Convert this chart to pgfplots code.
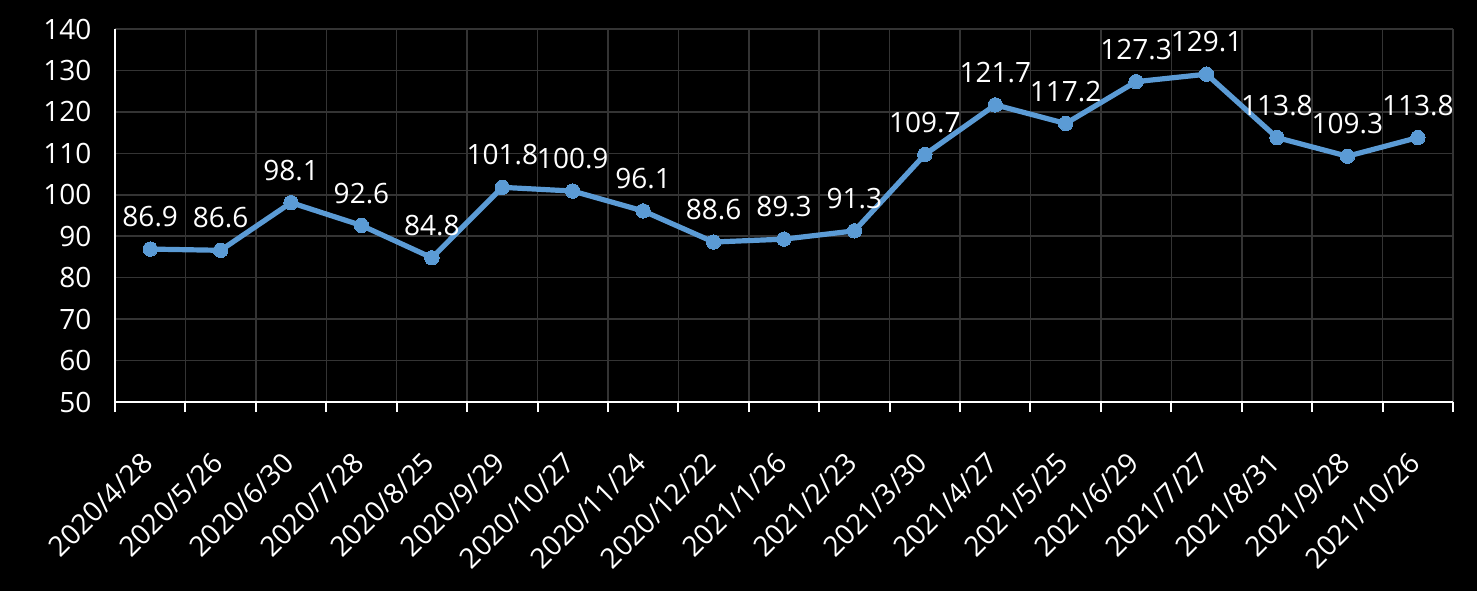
\documentclass[border=0pt]{standalone}
\usepackage{pgfplots}
\pgfplotsset{compat=1.18}
\usepackage{fontspec}
\setmainfont{Open Sans}
\definecolor{linec}{RGB}{91,155,213}
\definecolor{gridc}{RGB}{52,52,52}
\begin{document}
\begin{tikzpicture}
\fill[black] (0,0) rectangle (738.5pt,295.5pt);
\useasboundingbox (0,0) rectangle (738.5pt,295.5pt);
\begin{axis}[
  at={(57.5pt,94.5pt)}, anchor=south west,
  scale only axis, width=669pt, height=186.5pt,
  xmin=-0.5, xmax=18.5, ymin=50, ymax=140,
  ytick={50,60,...,140},
  xtick={0,...,18},
  xticklabels={2020/4/28,2020/5/26,2020/6/30,2020/7/28,2020/8/25,2020/9/29,2020/10/27,2020/11/24,2020/12/22,2021/1/26,2021/2/23,2021/3/30,2021/4/27,2021/5/25,2021/6/29,2021/7/27,2021/8/31,2021/9/28,2021/10/26},
  minor xtick={-0.5,0.5,...,18.5},
  xminorgrids=true, ymajorgrids=true, xmajorgrids=false,
  grid style={gridc, line width=0.75pt},
  minor grid style={gridc, line width=0.75pt},
  axis x line*=bottom, axis y line*=left,
  axis line style={white, line width=1pt},
  major x tick style={draw=none},
  minor x tick style={white, line width=1pt},
  minor tick length=5pt,
  tick align=outside,
  ytick style={draw=none},
  /pgf/number format/assume math mode=true,
  ticklabel style={white, font=\fontsize{14}{16}\selectfont},
  yticklabel style={xshift=-4pt},
  xticklabel style={anchor=north east, xshift=-5pt, yshift=-15pt, rotate=45},
  nodes near coords={\pgfmathprintnumber[fixed,precision=1,fixed zerofill]{\pgfplotspointmeta}},
  nodes near coords style={white, font=\fontsize{14}{16}\selectfont, anchor=south, inner sep=0pt, yshift=11pt, /pgf/number format/assume math mode=true},
  clip=false,
]
\addplot[linec, line width=2.6pt, mark=*, mark size=3.6pt, mark options={fill=linec, draw=linec, line width=0pt}] coordinates {
(0,86.9) (1,86.6) (2,98.1) (3,92.6) (4,84.8) (5,101.8) (6,100.9) (7,96.1) (8,88.6) (9,89.3) (10,91.3) (11,109.7) (12,121.7) (13,117.2) (14,127.3) (15,129.1) (16,113.8) (17,109.3) (18,113.8)
};
\end{axis}
\end{tikzpicture}
\end{document}
